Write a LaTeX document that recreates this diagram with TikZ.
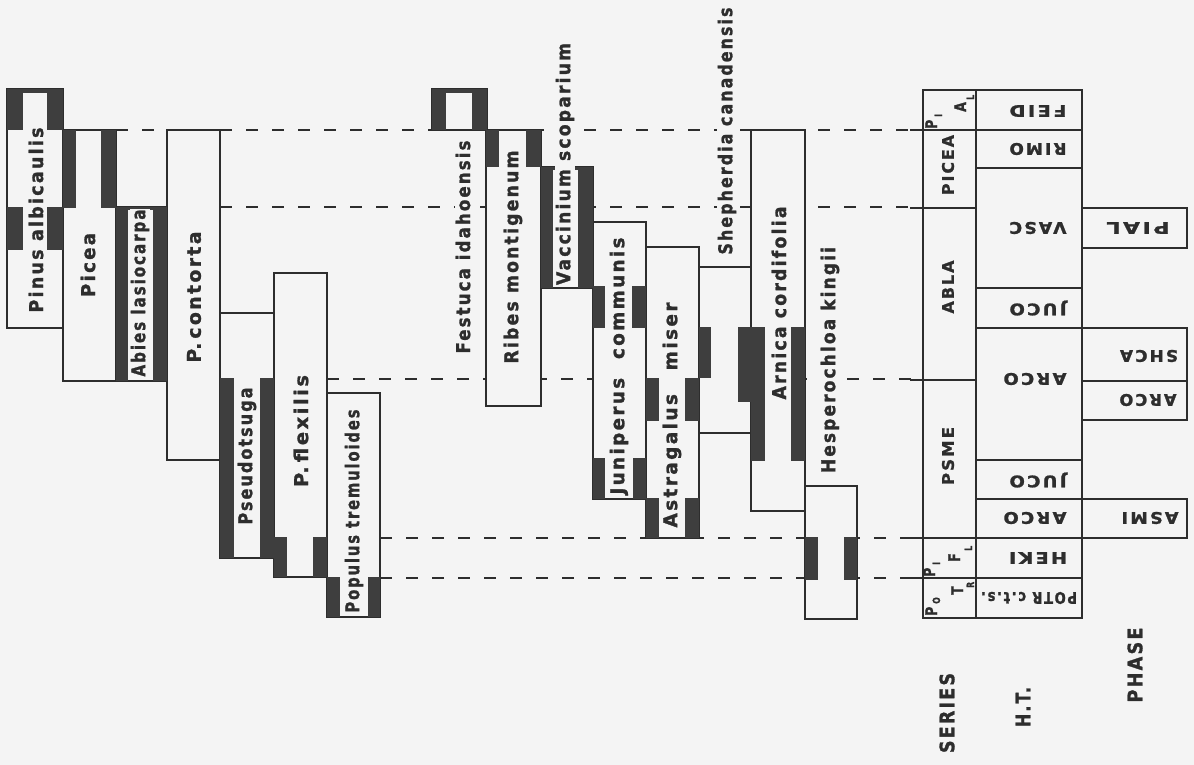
\documentclass[tikz,border=0pt]{standalone}
\usepackage{fontspec}
\usepackage{graphicx}
\newfontfamily\labfont{DejaVu Sans}[FakeStretch=0.78,LetterSpace=10,FakeBold=1.2]
\definecolor{bg}{RGB}{244,244,244}
\definecolor{ink}{RGB}{45,45,45}
\definecolor{dkc}{RGB}{62,62,62}
\newsavebox\lbx
\newcommand\fitw[2]{\sbox\lbx{#2}\pgfmathsetmacro\fsc{#1/\the\wd\lbx}\scalebox{\fsc}[1]{\usebox\lbx}}
\tikzset{
  box/.style={fill=bg, draw=ink, line width=1.8pt},
  dk/.style={fill=dkc},
  dsh/.style={draw=ink, line width=2.4pt, dash pattern=on 12pt off 14pt},
  tbl/.style={draw=ink, line width=1.8pt},
  lab/.style={rotate=90, fill=bg, inner sep=1pt, text=ink, font={\labfont\bfseries\fontsize{19}{19}\selectfont}},
  tlab/.style={rotate=180, inner sep=0.5pt, text=ink, font={\labfont\bfseries\fontsize{16}{16}\selectfont}},
  slab/.style={rotate=90, inner sep=0.5pt, text=ink, font={\labfont\bfseries\fontsize{16}{16}\selectfont}},
  stb/.style={rotate=90, inner sep=0pt, text=ink, anchor=base west, font={\labfont\bfseries\fontsize{16}{16}\selectfont}},
  sts/.style={rotate=90, inner sep=0pt, text=ink, anchor=base west, font={\labfont\bfseries\fontsize{10}{10}\selectfont}},
  blab/.style={rotate=90, inner sep=0.5pt, text=ink, font={\labfont\bfseries\fontsize{20}{20}\selectfont}}
}
\begin{document}
\begin{tikzpicture}[x=1pt,y=-1pt]
\useasboundingbox (0,0) rectangle (1194,765);
\fill[bg] (0,0) rectangle (1194,765);

% ---- dashed level lines ----
\coordinate (d1a) at (116,130); \coordinate (d1b) at (923,130);
\coordinate (d2a) at (220,207); \coordinate (d2b) at (923,207);
\coordinate (d3a) at (327,379); \coordinate (d3b) at (923,379);
\coordinate (d4a) at (380,538); \coordinate (d4b) at (923,538);
\coordinate (d5a) at (380,578); \coordinate (d5b) at (923,578);
\draw[dsh] (d1a) -- (d1b);
\draw[dsh] (d2a) -- (d2b);
\draw[dsh] (d3a) -- (d3b);
\draw[dsh] (d4a) -- (d4b);
\draw[dsh] (d5a) -- (d5b);

% ---- species boxes ----
\path[box] (7,89) rectangle (63,328);      % Pinus albicaulis
\path[box] (63,130) rectangle (116,381);   % Picea
\path[box] (116,207) rectangle (167,381);  % Abies
\path[box] (167,130) rectangle (220,460);  % P. contorta
\path[box] (220,313) rectangle (274,558);  % Pseudotsuga
\path[box] (274,273) rectangle (327,577);  % P. flexilis
\path[box] (327,393) rectangle (380,617);  % Populus
\path[box] (432,89) rectangle (487,130);   % Festuca
\path[box] (486,130) rectangle (541,406);  % Ribes
\path[box] (541,167) rectangle (593,288);  % Vaccinium
\path[box] (593,222) rectangle (646,499);  % Juniperus
\path[box] (646,247) rectangle (699,538);  % Astragalus
\path[box] (699,267) rectangle (751,433);  % Shepherdia
\path[box] (751,130) rectangle (805,511);  % Arnica
\path[box] (805,486) rectangle (857,619);  % Hesperochloa

% ---- dark (dominant) segments ----
\fill[dk] (7,89) rectangle (23,130); \fill[dk] (47,89) rectangle (63,130); \fill[dk] (7,89) rectangle (63,93);
\fill[dk] (7,207) rectangle (23,250); \fill[dk] (47,207) rectangle (63,250);
\fill[dk] (63,130) rectangle (76,208); \fill[dk] (101,130) rectangle (116,208);
\fill[dk] (116,207) rectangle (128,381); \fill[dk] (153,207) rectangle (167,381); \fill[dk] (116,207) rectangle (167,210);
\fill[dk] (220,378) rectangle (234,558); \fill[dk] (260,378) rectangle (274,558);
\fill[dk] (274,537) rectangle (287,577); \fill[dk] (313,537) rectangle (327,577);
\fill[dk] (327,577) rectangle (340,617); \fill[dk] (368,577) rectangle (380,617);
\fill[dk] (432,89) rectangle (446,130); \fill[dk] (472,89) rectangle (487,130); \fill[dk] (432,89) rectangle (487,93);
\fill[dk] (486,130) rectangle (499,167); \fill[dk] (526,130) rectangle (541,167);
\fill[dk] (541,167) rectangle (553,288); \fill[dk] (578,167) rectangle (593,288); \fill[dk] (541,167) rectangle (593,170);
\fill[dk] (593,286) rectangle (605,328); \fill[dk] (632,286) rectangle (646,328);
\fill[dk] (593,458) rectangle (605,499); \fill[dk] (633,458) rectangle (646,499);
\fill[dk] (646,378) rectangle (659,421); \fill[dk] (685,378) rectangle (699,421);
\fill[dk] (646,498) rectangle (659,538); \fill[dk] (685,498) rectangle (699,538);
\fill[dk] (699,327) rectangle (711,378); \fill[dk] (738,327) rectangle (751,402);
\fill[dk] (751,327) rectangle (765,461); \fill[dk] (791,327) rectangle (805,461);
\fill[dk] (805,537) rectangle (818,580); \fill[dk] (844,537) rectangle (857,580);

% ---- species labels ----
\node[lab] (pial) at (36,220) {\fitw{185}{Pinus albicaulis}};
\node[lab] (picea) at (88,265) {\fitw{64}{Picea}};
\node[lab] (abla) at (140,293) {\fitw{167}{Abies lasiocarpa}};
\node[lab] (poco) at (194,297) {\fitw{131}{P.\,contorta}};
\node[lab] (psme) at (247,456) {\fitw{137}{Pseudotsuga}};
\node[lab] (pifl) at (301,431) {\fitw{112}{P.\,flexilis}};
\node[lab] (potr) at (354,511) {\fitw{203}{Populus tremuloides}};
\node[lab] (feid) at (463,247) {\fitw{213}{Festuca idahoensis}};
\node[lab] (rimo) at (513,257) {\fitw{213}{Ribes montigenum}};
\node[lab] (vasc) at (565,164) {\fitw{242}{Vaccinium scoparium}};
\node[lab] (juco) at (619,366) {\fitw{257}{Juniperus\hspace{0.8em}communis}};
\node[lab] (asmi) at (672,415) {\fitw{225}{Astragalus\hspace{1em}miser}};
\node[lab] (shca) at (727,131) {\fitw{247}{Shepherdia canadensis}};
\node[lab] (arco) at (779,303) {\fitw{193}{Arnica cordifolia}};
\node[lab] (heki) at (830,360) {\fitw{226}{Hesperochloa kingii}};

% ---- series / habitat type / phase table ----
\draw[tbl] (923,90) rectangle (1082,618);
\draw[tbl] (976,90) -- (976,618);
\foreach \yy in {130,208,380,538,578} \draw[tbl] (910,\yy) -- (976,\yy);
\foreach \yy in {130,168,288,328,460,499,538,578} \draw[tbl] (976,\yy) -- (1082,\yy);
\draw[tbl] (1082,208) rectangle (1187,248);
\draw[tbl] (1082,328) rectangle (1187,420);
\draw[tbl] (1082,381) -- (1187,381);
\draw[tbl] (1082,499) rectangle (1187,538);

% series labels (staircase abbreviations)
\node[stb] (sPIAL1) at (937,129) {P};
\node[sts] (sPIAL2) at (942,117) {I};
\node[stb] (sPIAL3) at (966,112) {A};
\node[sts] (sPIAL4) at (974,100) {L};
\node[slab] (sPICEA) at (948,165) {\fitw{60}{PICEA}};
\node[slab] (sABLA) at (948,287) {\fitw{53}{ABLA}};
\node[slab] (sPSME) at (948,456) {\fitw{58}{PSME}};
\node[stb] (sPIFL1) at (935,577) {P};
\node[sts] (sPIFL2) at (940,565) {I};
\node[stb] (sPIFL3) at (960,562) {F};
\node[sts] (sPIFL4) at (972,551) {L};
\node[stb] (sPOTR1) at (937,616) {P};
\node[sts] (sPOTR2) at (940,604) {O};
\node[stb] (sPOTR3) at (963,595) {T};
\node[sts] (sPOTR4) at (974,588) {R};

% habitat types (H.T.)
\node[tlab] (hFEID) at (1038,111) {\fitw{57}{FEID}};
\node[tlab] (hRIMO) at (1038,149) {\fitw{57}{RIMO}};
\node[tlab] (hVASC) at (1038,228) {\fitw{57}{VASC}};
\node[tlab] (hJUCO1) at (1038,308) {\fitw{57}{JUCO}};
\node[tlab] (hARCO1) at (1035,379) {\fitw{63}{ARCO}};
\node[tlab] (hJUCO2) at (1038,480) {\fitw{57}{JUCO}};
\node[tlab] (hARCO2) at (1035,518) {\fitw{63}{ARCO}};
\node[tlab] (hHEKI) at (1038,558) {\fitw{58}{HEKI}};
\node[tlab] (hPOTR) at (1029,598) {\fitw{96}{POTR c.t.s.}};

% phases
\node[tlab] (pPIAL) at (1138,228) {\fitw{63}{PIAL}};
\node[tlab] (pSHCA) at (1149,356) {\fitw{58}{SHCA}};
\node[tlab] (pARCO) at (1148,400) {\fitw{57}{ARCO}};
\node[tlab] (pASMI) at (1150,518) {\fitw{57}{ASMI}};

% column titles
\node[blab] (tSeries) at (947,713) {\fitw{80}{SERIES}};
\node[blab] (tHT) at (1023,707) {\fitw{40}{H.T.}};
\node[blab] (tPhase) at (1135,665) {\fitw{75}{PHASE}};
\end{tikzpicture}
\end{document}
